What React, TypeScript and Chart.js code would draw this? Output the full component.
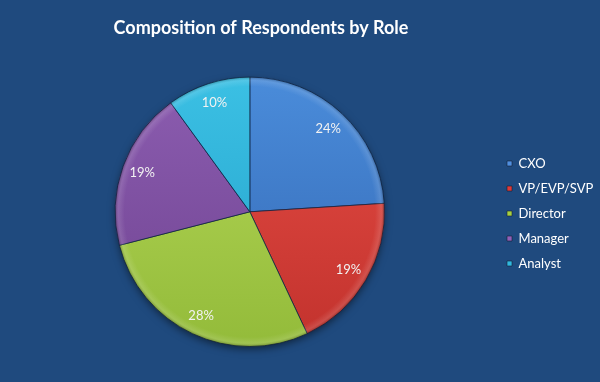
import React, { useEffect, useRef } from "react";
import { Chart, registerables } from "chart.js";

Chart.register(...registerables);

const categories = ["CXO", "VP/EVP/SVP", "Director", "Manager", "Analyst"];
const shares = [24, 19, 28, 19, 10];
const topColors = ["#4A8CDA", "#E64D45", "#B6D858", "#8C5DB0", "#3BC0E4"];
const bottomColors = ["#3468B4", "#C2322D", "#93BB3A", "#6F4391", "#23A1C9"];
const legendColors = ["#4F8FE0", "#E03A38", "#A8D040", "#9060B8", "#30B8E0"];

const BG = "#1F4A7E";

const pieDecor = {
  id: "pieDecor",
  afterLayout(chart: any) {
    const t = chart.titleBlock;
    if (t) {
      t.left -= 43;
      t.right -= 43;
    }
    const l = chart.legend;
    if (l) {
      const dx = 495 - l.left;
      l.left += dx;
      l.right += dx;
      l.top += 40;
      l.bottom += 40;
    }
  },
  beforeDatasetsDraw(chart: any) {
    const meta = chart.getDatasetMeta(0);
    if (!meta.data.length) return;
    const a = meta.data[0];
    const ctx = chart.ctx;
    ctx.save();
    ctx.shadowColor = "rgba(0,0,0,0.55)";
    ctx.shadowBlur = 8;
    ctx.shadowOffsetY = 3;
    ctx.beginPath();
    ctx.arc(a.x, a.y, a.outerRadius - 1, 0, Math.PI * 2);
    ctx.fillStyle = BG;
    ctx.fill();
    ctx.restore();
  },
  afterDatasetsDraw(chart: any) {
    const meta = chart.getDatasetMeta(0);
    if (!meta.data.length) return;
    const ctx = chart.ctx;
    const a0 = meta.data[0];
    const r = a0.outerRadius;
    ctx.save();
    const g = ctx.createRadialGradient(a0.x, a0.y, 0, a0.x, a0.y, r);
    g.addColorStop(0, "rgba(255,255,255,0)");
    g.addColorStop(0.93, "rgba(255,255,255,0)");
    g.addColorStop(0.975, "rgba(255,255,255,0.12)");
    g.addColorStop(1, "rgba(0,0,0,0.25)");
    ctx.beginPath();
    ctx.arc(a0.x, a0.y, r, 0, Math.PI * 2);
    ctx.fillStyle = g;
    ctx.fill();
    ctx.font = "13px Lato";
    ctx.fillStyle = "#F2F2F2";
    ctx.textAlign = "center";
    ctx.textBaseline = "middle";
    meta.data.forEach((arc: any, i: number) => {
      const p = arc.getProps(["x", "y", "startAngle", "endAngle", "outerRadius"], true);
      const mid = (p.startAngle + p.endAngle) / 2;
      const d = p.outerRadius * 0.85;
      ctx.fillText(shares[i] + "%", p.x + Math.cos(mid) * d, p.y + Math.sin(mid) * d);
    });
    ctx.restore();
  },
};

export default function App() {
  const ref = useRef<HTMLCanvasElement | null>(null);
  useEffect(() => {
    if (!ref.current) return;
    const chart = new Chart(ref.current, {
      type: "pie",
      data: {
        labels: categories,
        datasets: [
          {
            data: shares,
            backgroundColor: (c: any) => {
              const area = c.chart.chartArea;
              const i = c.dataIndex;
              if (!area || i === undefined) return topColors[i ?? 0];
              const g = c.chart.ctx.createLinearGradient(0, area.top, 0, area.bottom);
              g.addColorStop(0, topColors[i]);
              g.addColorStop(1, bottomColors[i]);
              return g;
            },
            borderColor: "rgba(15,35,65,0.75)",
            borderWidth: 1,
          },
        ],
      },
      options: {
        responsive: false,
        animation: false,
        layout: { padding: { top: 0, bottom: 35, left: 8, right: 0 } },
        plugins: {
          title: {
            display: true,
            text: "Composition of Respondents by Role",
            color: "#FFFFFF",
            font: { family: "Lato", size: 18, weight: "bold" },
            padding: { top: 17, bottom: 38 },
          },
          legend: {
            position: "right",
            labels: {
              color: "#FFFFFF",
              font: { family: "Lato", size: 13 },
              boxWidth: 5,
              boxHeight: 5,
              padding: 12,
              generateLabels: () =>
                categories.map((name, i) => ({
                  text: name,
                  fillStyle: legendColors[i],
                  strokeStyle: "rgba(20,30,50,0.6)",
                  lineWidth: 1,
                  fontColor: "#FFFFFF",
                  hidden: false,
                  index: i,
                })),
            },
          },
          tooltip: { enabled: false },
        },
      },
      plugins: [pieDecor],
    });
    return () => chart.destroy();
  }, []);
  return (
    <div style={{ position: "fixed", left: 0, top: 0, width: 600, height: 382, background: BG }}>
      <canvas ref={ref} width={600} height={382} style={{ display: "block" }} />
    </div>
  );
}
